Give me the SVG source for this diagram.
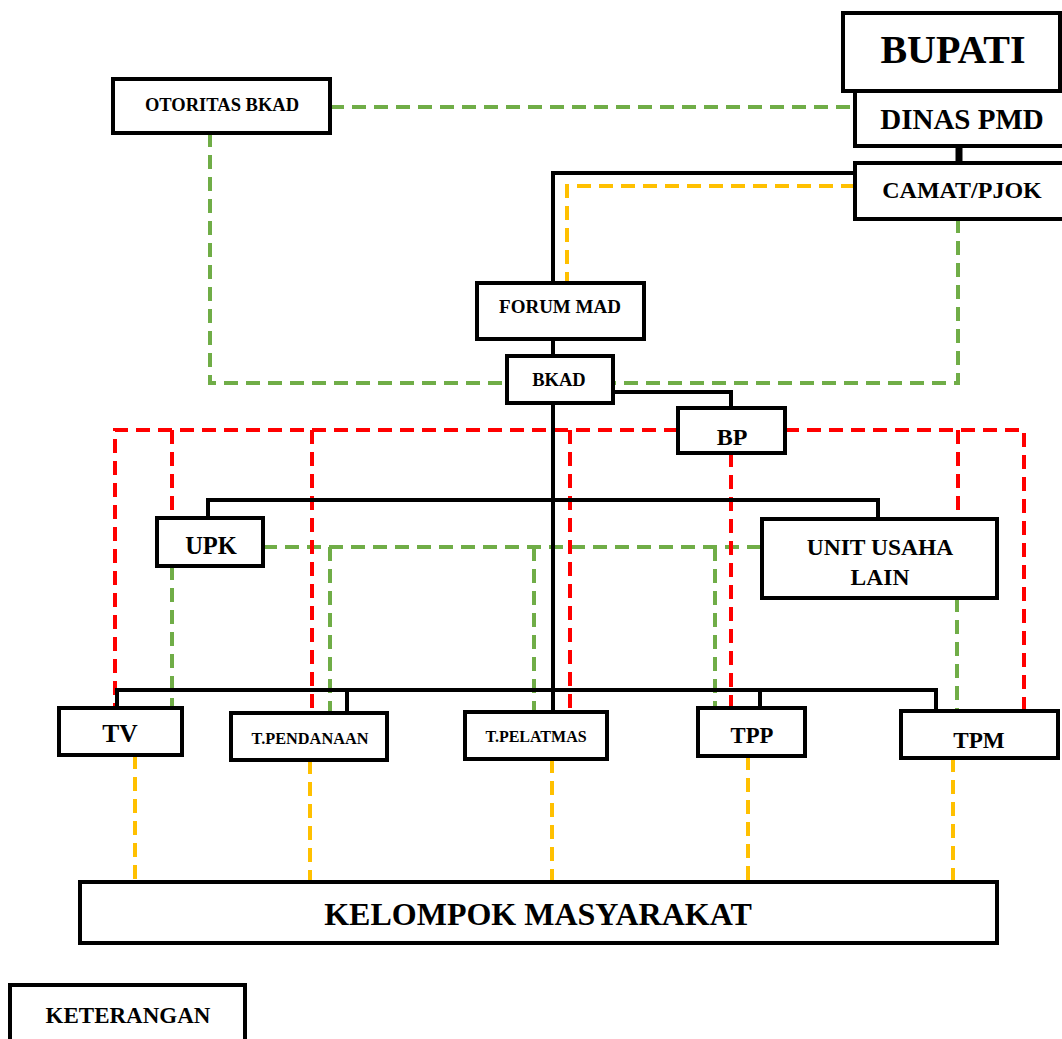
<svg xmlns="http://www.w3.org/2000/svg" width="1062" height="1039" viewBox="0 0 1062 1039">
<style>
.box{fill:#fff;stroke:#000;stroke-width:4}
text{font-family:"Liberation Serif","Times New Roman",serif;font-weight:bold;fill:#000;text-anchor:middle}
.blk{fill:none;stroke:#000;stroke-width:4}
.red{fill:none;stroke:#FF0000;stroke-width:4;stroke-dasharray:14 8}
.grn{fill:none;stroke:#70AD47;stroke-width:4;stroke-dasharray:14 8}
.ylw{fill:none;stroke:#FFC000;stroke-width:4;stroke-dasharray:14 8}
</style>
<rect width="1062" height="1039" fill="#fff"/>
<g id="connectors">
<path class="grn" d="M330 107H855"/>
<path class="grn" d="M210 133V383H507"/>
<path class="grn" d="M958 219V383H613"/>
<path class="grn" d="M263 547H762"/>
<path class="grn" d="M330 547V713"/>
<path class="grn" d="M534 547V712"/>
<path class="grn" d="M715 547V708"/>
<path class="grn" d="M172 566V708"/>
<path class="grn" d="M957 598V711"/>
<path class="red" d="M678 430H115V708"/>
<path class="red" d="M172 430V518"/>
<path class="red" d="M312 430V713"/>
<path class="red" d="M570 430V712"/>
<path class="red" d="M785 430H1024V711"/>
<path class="red" d="M958 430V519"/>
<path class="red" d="M731 453V708"/>
<path class="ylw" d="M855 186H567V283"/>
<path class="ylw" d="M135 755V882"/>
<path class="ylw" d="M310 760V882"/>
<path class="ylw" d="M552 759V882"/>
<path class="ylw" d="M748 756V882"/>
<path class="ylw" d="M953 758V882"/>
<path class="blk" d="M957 73V91" stroke-width="3"/>
<path class="blk" d="M959 146V163" style="stroke-width:7"/>
<path class="blk" d="M855 173H553V283"/>
<path class="blk" d="M553 339V356"/>
<path class="blk" d="M553 403V712"/>
<path class="blk" d="M613 392H731V408"/>
<path class="blk" d="M208 518V500H878V519"/>
<path class="blk" d="M117 708V690H936V711"/>
<path class="blk" d="M347 690V713"/>
<path class="blk" d="M760 690V708"/>
</g>
<g id="bupati"><rect class="box" x="843" y="13" width="217" height="78"/><text x="953" y="63" font-size="40">BUPATI</text></g>
<g id="dinas-pmd"><rect class="box" x="855" y="91" width="210" height="55"/><text x="962" y="129" font-size="29">DINAS PMD</text></g>
<g id="camat"><rect class="box" x="855" y="163" width="210" height="56"/><text x="962" y="198" font-size="24">CAMAT/PJOK</text></g>
<g id="otoritas-bkad"><rect class="box" x="113" y="79" width="217" height="54"/><text x="222" y="111" font-size="18.5">OTORITAS BKAD</text></g>
<g id="forum-mad"><rect class="box" x="477" y="283" width="167" height="56"/><text x="560" y="313" font-size="19">FORUM MAD</text></g>
<g id="bkad"><rect class="box" x="507" y="356" width="106" height="47"/><text x="559" y="386" font-size="18.5">BKAD</text></g>
<g id="bp"><rect class="box" x="678" y="408" width="107" height="45"/><text x="732" y="445" font-size="24">BP</text></g>
<g id="upk"><rect class="box" x="157" y="518" width="106" height="48"/><text x="211" y="554" font-size="24.5">UPK</text></g>
<g id="unit-usaha-lain"><rect class="box" x="762" y="519" width="235" height="79"/><text x="880" y="555" font-size="23.5">UNIT USAHA</text><text x="880" y="585" font-size="23.5">LAIN</text></g>
<g id="tv"><rect class="box" x="59" y="708" width="123" height="47"/><text x="120" y="742" font-size="25.5">TV</text></g>
<g id="t-pendanaan"><rect class="box" x="231" y="713" width="156" height="47"/><text x="310" y="744" font-size="16.3">T.PENDANAAN</text></g>
<g id="t-pelatmas"><rect class="box" x="465" y="712" width="142" height="47"/><text x="536" y="742" font-size="16">T.PELATMAS</text></g>
<g id="tpp"><rect class="box" x="698" y="708" width="107" height="48"/><text x="752" y="743" font-size="22.7">TPP</text></g>
<g id="tpm"><rect class="box" x="901" y="711" width="157" height="47"/><text x="979" y="748" font-size="23.2">TPM</text></g>
<g id="kelompok-masyarakat"><rect class="box" x="80" y="882" width="917" height="61"/><text x="538" y="925" font-size="32">KELOMPOK MASYARAKAT</text></g>
<g id="keterangan"><rect class="box" x="10" y="985" width="235" height="60"/><text x="128" y="1023" font-size="23">KETERANGAN</text></g>
</svg>
